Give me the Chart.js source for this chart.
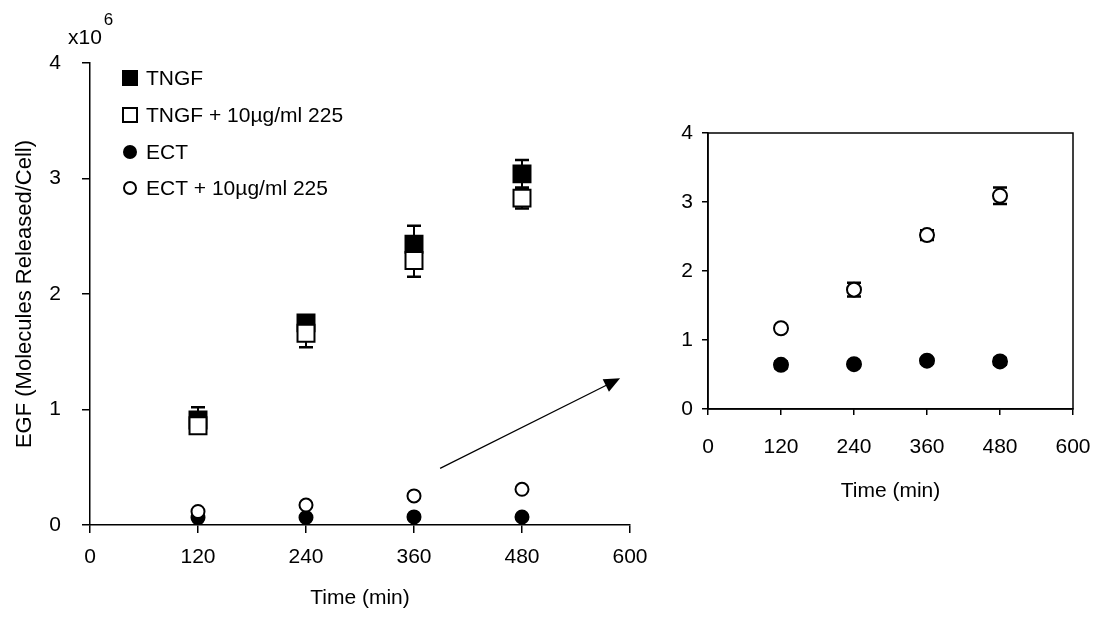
<!DOCTYPE html>
<html>
<head>
<meta charset="utf-8">
<script src="https://cdn.jsdelivr.net/npm/chart.js@4.4.0/dist/chart.umd.min.js"></script>
<style>
    body { margin: 0; background: #fff; }
    #wrap { position: relative; width: 1099px; height: 621px; }
    #leftBox { position: absolute; left: 0; top: 0; width: 660px; height: 621px; }
    #rightBox { position: absolute; left: 660px; top: 0; width: 439px; height: 621px; }
</style>
</head>
<body>
<div id="wrap">
    <div id="leftBox"><canvas id="mainChart"></canvas></div>
    <div id="rightBox"><canvas id="insetChart"></canvas></div>
</div>
<script>
// time points (min)
var times = [120, 240, 360, 480];
var xTicks = [0, 120, 240, 360, 480, 600];
var yTicks = [0, 1, 2, 3, 4];

// TNGF series, x10^6 molecules/cell
var tngf = [0.91, 1.75, 2.43, 3.04];
var tngfErr = [0.11, 0.06, 0.16, 0.12];
var tngf225 = [0.86, 1.66, 2.29, 2.83];
var tngf225Err = [0.05, 0.12, 0.14, 0.09];

// ECT series, x10^5 molecules/cell
var ect = [0.64, 0.65, 0.70, 0.69];
var ectErr = [0.05, 0.04, 0.04, 0.05];
var ect225 = [1.17, 1.73, 2.52, 3.09];
var ect225Err = [0.04, 0.10, 0.07, 0.12];

var legendLabels = ['TNGF', 'TNGF + 10\u00b5g/ml 225', 'ECT', 'ECT + 10\u00b5g/ml 225'];

var fontFam = "'Liberation Sans', Arial, sans-serif";
Chart.defaults.font.family = fontFam;
Chart.defaults.color = '#000';

function pts(vals, scale) {
    return times.map(function (t, i) { return { x: t, y: vals[i] * scale }; });
}

function series(label, vals, errs, scale, style, filled, radius, order) {
    return {
        label: label,
        data: pts(vals, scale),
        errors: errs.map(function (e) { return e * scale; }),
        pointStyle: style,
        pointRadius: radius,
        pointHoverRadius: radius,
        pointBackgroundColor: filled ? '#000' : '#fff',
        pointBorderColor: '#000',
        pointBorderWidth: 2,
        showLine: false,
        order: order
    };
}

// error bars under the markers
var errorBars = {
    id: 'errorBars',
    beforeDatasetsDraw: function (chart) {
        var ctx = chart.ctx, ys = chart.scales.y;
        ctx.save();
        ctx.strokeStyle = '#000';
        chart.data.datasets.forEach(function (ds, i) {
            var meta = chart.getDatasetMeta(i);
            var cap = 7;
            meta.data.forEach(function (el, j) {
                var v = ds.data[j].y, e = ds.errors[j];
                var yt = ys.getPixelForValue(v + e), yb = ys.getPixelForValue(v - e);
                ctx.lineWidth = 2;
                ctx.beginPath();
                ctx.moveTo(el.x, yt); ctx.lineTo(el.x, yb);
                ctx.stroke();
                ctx.lineWidth = 2.5;
                ctx.beginPath();
                ctx.moveTo(el.x - cap, yt); ctx.lineTo(el.x + cap, yt);
                ctx.moveTo(el.x - cap, yb); ctx.lineTo(el.x + cap, yb);
                ctx.stroke();
            });
        });
        ctx.restore();
    }
};

function exponent(base, sup, x, y) {
    return {
        id: 'exp' + sup,
        afterDraw: function (chart) {
            var ctx = chart.ctx;
            ctx.save();
            ctx.fillStyle = '#000';
            ctx.textBaseline = 'alphabetic';
            ctx.font = '21px ' + fontFam;
            ctx.fillText(base, x, y);
            var w = ctx.measureText(base).width;
            ctx.font = '17px ' + fontFam;
            ctx.fillText(sup, x + w + 2, y - 19);
            ctx.restore();
        }
    };
}

var mainExtras = {
    id: 'mainExtras',
    afterDraw: function (chart) {
        var ctx = chart.ctx, xs = chart.scales.x, ys = chart.scales.y;
        ctx.save();
        // legend
        var rows = [78, 115, 152, 188];
        chart.data.datasets.forEach(function (ds, i) {
            var y = rows[i];
            ctx.fillStyle = ds.pointBackgroundColor;
            ctx.strokeStyle = '#000';
            ctx.lineWidth = 2;
            ctx.beginPath();
            if (ds.pointStyle === 'rect') ctx.rect(123, y - 7, 14, 14);
            else ctx.arc(130, y, 6, 0, Math.PI * 2);
            ctx.fill();
            ctx.stroke();
            ctx.fillStyle = '#000';
            ctx.font = '21px ' + fontFam;
            ctx.textBaseline = 'middle';
            ctx.fillText(legendLabels[i], 146, y + 1);
        });
        // arrow pointing to the inset
        var x0 = xs.getPixelForValue(389), y0 = ys.getPixelForValue(0.49);
        var x1 = xs.getPixelForValue(589), y1 = ys.getPixelForValue(1.27);
        var ang = Math.atan2(y1 - y0, x1 - x0);
        ctx.strokeStyle = '#000';
        ctx.lineWidth = 1.2;
        ctx.beginPath();
        ctx.moveTo(x0, y0);
        ctx.lineTo(x1 - 12 * Math.cos(ang), y1 - 12 * Math.sin(ang));
        ctx.stroke();
        ctx.fillStyle = '#000';
        ctx.beginPath();
        ctx.moveTo(x1, y1);
        ctx.lineTo(x1 - 16 * Math.cos(ang) + 7 * Math.sin(ang), y1 - 16 * Math.sin(ang) - 7 * Math.cos(ang));
        ctx.lineTo(x1 - 16 * Math.cos(ang) - 7 * Math.sin(ang), y1 - 16 * Math.sin(ang) + 7 * Math.cos(ang));
        ctx.closePath();
        ctx.fill();
        ctx.restore();
    }
};

var frame = {
    id: 'frame',
    afterDraw: function (chart) {
        var a = chart.chartArea, ctx = chart.ctx;
        ctx.save();
        ctx.strokeStyle = '#000';
        ctx.lineWidth = 1.5;
        ctx.strokeRect(a.left, a.top, a.right - a.left, a.bottom - a.top);
        ctx.restore();
    }
};

function axes(o) {
    return {
        x: {
            type: 'linear', min: 0, max: 600,
            afterBuildTicks: function (s) { s.ticks = xTicks.map(function (v) { return { value: v }; }); },
            ticks: { font: { size: 21 }, padding: o.xPad, maxRotation: 0 },
            grid: { drawOnChartArea: false, drawTicks: true, tickLength: o.tick, color: '#000', lineWidth: 1.5 },
            border: { color: '#000', width: 1.5 },
            title: { display: true, text: 'Time (min)', font: { size: 21 }, padding: { top: 0, bottom: o.titlePad } },
            afterFit: function (s) {
                s.height = o.xHeight;
                // keep the plot edge where the layout padding puts it
                s.paddingRight = Math.min(s.paddingRight, 20);
                s.paddingLeft = 0;
            }
        },
        y: {
            min: 0, max: 4,
            afterBuildTicks: function (s) { s.ticks = yTicks.map(function (v) { return { value: v }; }); },
            ticks: { font: { size: 21 }, padding: o.yPad },
            grid: { drawOnChartArea: false, drawTicks: true, tickLength: o.tick, color: '#000', lineWidth: 1.5 },
            border: { color: '#000', width: 1.5 },
            title: { display: !!o.yTitle, text: o.yTitle || '', font: { size: 22 }, padding: { top: 12, bottom: 0 } },
            afterFit: function (s) { s.width = o.yWidth; }
        }
    };
}

var mainChart = new Chart(document.getElementById('mainChart'), {
    type: 'scatter',
    plugins: [errorBars, mainExtras, exponent('x10', '6', 68, 44)],
    data: {
        datasets: [
            series(legendLabels[0], tngf, tngfErr, 1, 'rect', true, 12, 4),
            series(legendLabels[1], tngf225, tngf225Err, 1, 'rect', false, 12, 3),
            series(legendLabels[2], ect, ectErr, 0.1, 'circle', true, 6.5, 2),
            series(legendLabels[3], ect225, ect225Err, 0.1, 'circle', false, 6.5, 1)
        ]
    },
    options: {
        maintainAspectRatio: false,
        animation: false,
        layout: { padding: { left: 0, top: 63, right: 30, bottom: 0 } },
        plugins: { legend: { display: false }, tooltip: { enabled: false } },
        scales: axes({ xPad: 12, tick: 8, titlePad: 10, xHeight: 96, yPad: 21, yWidth: 90,
            yTitle: 'EGF (Molecules Released/Cell)' })
    }
});

var insetChart = new Chart(document.getElementById('insetChart'), {
    type: 'scatter',
    plugins: [errorBars, frame, exponent('x10', '5', 700, 120)],
    data: {
        datasets: [
            series(legendLabels[2], ect, ectErr, 1, 'circle', true, 7, 2),
            series(legendLabels[3], ect225, ect225Err, 1, 'circle', false, 7, 1)
        ]
    },
    options: {
        maintainAspectRatio: false,
        animation: false,
        layout: { padding: { left: 0, top: 133, right: 26, bottom: 102 } },
        plugins: { legend: { display: false }, tooltip: { enabled: false } },
        scales: axes({ xPad: 20, tick: 6, titlePad: 15, xHeight: 110, yPad: 9, yWidth: 48 })
    }
});
</script>
</body>
</html>
